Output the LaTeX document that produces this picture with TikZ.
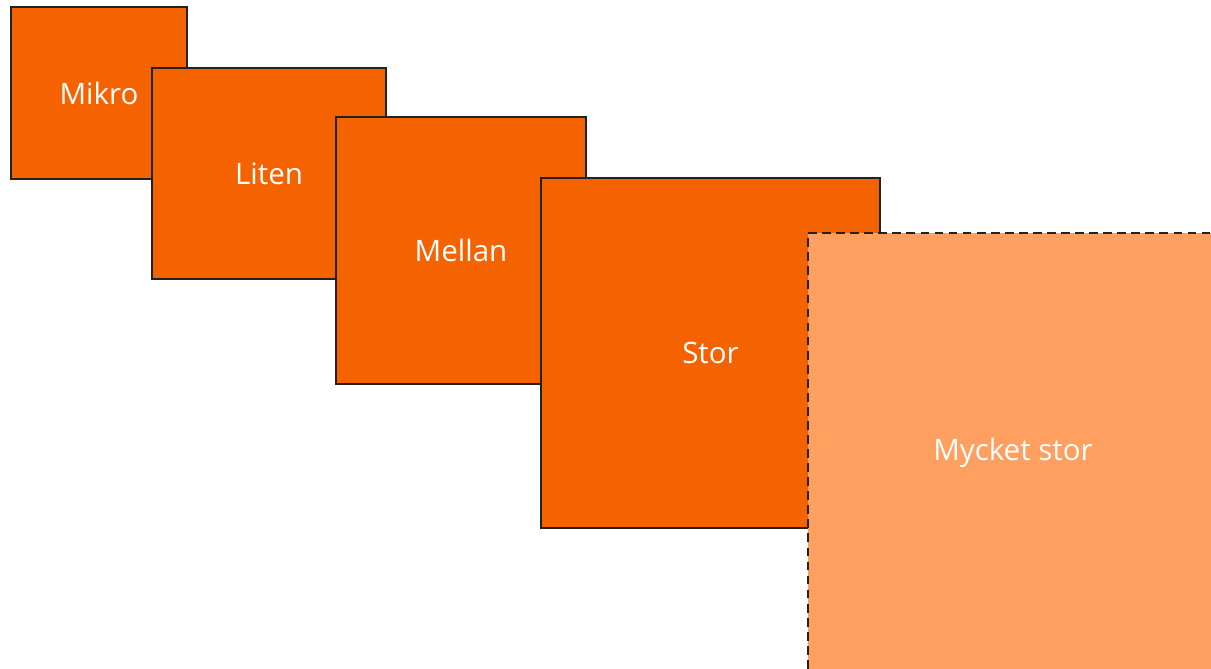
\documentclass[tikz,border=0pt]{standalone}
\usepackage{fontspec}
\setmainfont{Open Sans}
\definecolor{sizeorange}{HTML}{F56300}
\definecolor{sizelight}{HTML}{FFA060}
\definecolor{sizeline}{HTML}{222222}
\begin{document}
\begin{tikzpicture}[
  x=0.02cm, y=-0.02cm,
  every node/.style={inner sep=1pt, font=\fontsize{16.8}{20}\selectfont, text=white},
  sizebox/.style={draw=sizeline, line width=1.4pt, fill=sizeorange},
  futurebox/.style={draw=sizeline, line width=1.4pt, fill=sizelight,
    dash pattern=on 5pt off 3pt}
]
  \clip (0,0) rectangle (1211,669);

  \node[sizebox, minimum width=3.52cm, minimum height=3.44cm] (mikro) at (99,93) {Mikro};
  \node[sizebox, minimum width=4.68cm, minimum height=4.22cm] (liten) at (269,173.5) {Liten};
  \node[sizebox, minimum width=5.00cm, minimum height=5.34cm] (mellan) at (461,250.5) {Mellan};
  \node[sizebox, minimum width=6.78cm, minimum height=7.00cm] (stor) at (710.5,353) {Stor};
  \node[futurebox, minimum width=8.20cm, minimum height=8.80cm] (mycketstor) at (1013,453) {Mycket stor};
\end{tikzpicture}
\end{document}
